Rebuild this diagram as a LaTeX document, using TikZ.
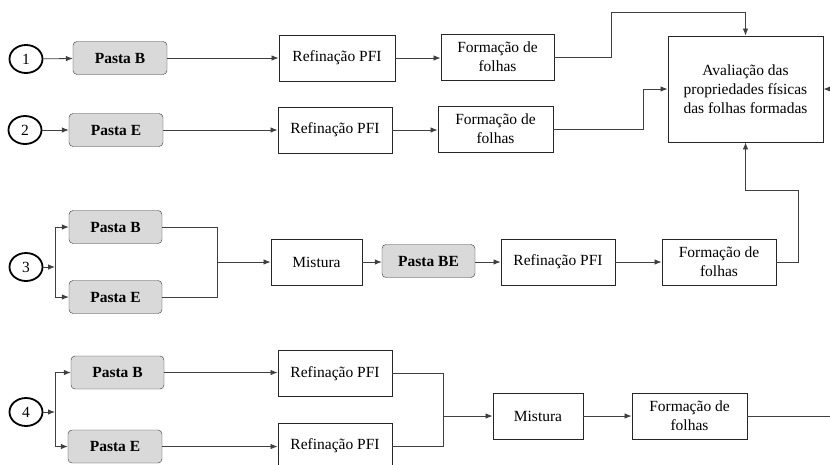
\documentclass[tikz,border=0pt]{standalone}
\usepackage{fontspec}
\setmainfont{Liberation Serif}
\usetikzlibrary{arrows.meta,shapes.geometric}

\begin{document}
\begin{tikzpicture}[x=1pt, y=-1pt,
    font=\fontsize{15.5}{19}\selectfont,
    num/.style={draw, ellipse, line width=1.8pt, minimum width=33pt, minimum height=28pt, inner sep=0pt},
    pasta/.style={draw=black!80, rectangle, rounded corners=4pt, fill=black!15, minimum width=94pt, minimum height=33pt, font=\fontsize{15.5}{19}\selectfont\bfseries},
    caixa/.style={draw=black!85, rectangle, line width=0.9pt, minimum height=46pt, align=center, inner sep=1pt},
    seta/.style={draw=black!75, line width=0.8pt, -{Latex[length=7pt,width=5.5pt]}},
    linha/.style={draw=black!75, line width=0.8pt}]
    \useasboundingbox (0,0) rectangle (830,464);

    % Linha 1
    \node[num] (c1) at (26, 59) {1};
    \node[pasta] (pb1) at (120, 58) {Pasta B};
    \node[caixa, minimum width=116pt] (r1) at (337, 58) {Refinação PFI};
    \node[caixa, minimum width=113pt] (f1) at (497.5, 57) {Formação de\\folhas};
    \node[caixa, minimum width=155pt, minimum height=106pt] (aval) at (745.5, 89) {Avaliação das\\propriedades físicas\\das folhas formadas};
    \coordinate (k1) at (611, 12);

    % Linha 2
    \node[num] (c2) at (25, 130) {2};
    \node[pasta] (pe2) at (116, 130) {Pasta E};
    \node[caixa, minimum width=114pt] (r2) at (335, 130) {Refinação PFI};
    \node[caixa, minimum width=115pt] (f2) at (495.5, 129) {Formação de\\folhas};
    \coordinate (k2) at (643, 89);

    % Linha 3
    \node[num] (c3) at (26, 267) {3};
    \coordinate (j3) at (55, 267);
    \node[pasta, minimum width=93pt] (pb3) at (115.5, 227) {Pasta B};
    \node[pasta, minimum width=93pt] (pe3) at (115.5, 297) {Pasta E};
    \coordinate (m3) at (217, 262);
    \node[caixa, minimum width=91pt] (mix3) at (316.5, 262) {Mistura};
    \node[pasta, minimum width=93pt] (pbe) at (428.5, 261) {Pasta BE};
    \node[caixa, minimum width=114pt] (r3) at (558, 262) {Refinação PFI};
    \node[caixa, minimum width=114pt] (f3) at (719, 262) {Formação de\\folhas};
    \coordinate (k3) at (798, 190);

    % Linha 4
    \node[num] (c4) at (26, 412) {4};
    \coordinate (j4) at (55, 412);
    \node[pasta, minimum width=93pt] (pb4) at (117.5, 372.5) {Pasta B};
    \node[pasta] (pe4) at (115, 446.5) {Pasta E};
    \node[caixa, minimum width=114pt] (r4a) at (335, 373.5) {Refinação PFI};
    \node[caixa, minimum width=114pt] (r4b) at (335, 446) {Refinação PFI};
    \coordinate (m4) at (443, 416);
    \node[caixa, minimum width=90pt] (mix4) at (538, 416) {Mistura};
    \node[caixa, minimum width=115pt] (f4) at (689.5, 416) {Formação de\\folhas};
    \coordinate (k4) at (845, 89);

    % Setas
    \draw[seta] (c1) -- (pb1);
    \draw[seta] (pb1) -- (r1.west |- pb1);
    \draw[seta] (r1.east) -- (f1.west |- r1.east);
    \draw[seta] (f1.east) -| (k1) -| (aval.north);

    \draw[seta] (c2) -- (pe2);
    \draw[seta] (pe2) -- (r2);
    \draw[seta] (r2.east) -- (f2.west |- r2.east);
    \draw[seta] (f2.east) -| (k2) -- (aval.west);

    \draw[seta] (c3) -- (j3);
    \draw[seta] (j3) |- (pb3.west);
    \draw[seta] (j3) |- (pe3.west);
    \draw[linha] (pb3.east) -| (m3);
    \draw[linha] (pe3.east) -| (m3);
    \draw[seta] (m3) -- (mix3.west);
    \draw[seta] (mix3.east) -- (pbe.west |- mix3.east);
    \draw[seta] (pbe.east |- r3.west) -- (r3.west);
    \draw[seta] (r3) -- (f3);
    \draw[seta] (f3.east) -| (k3) -| (aval.south);

    \draw[seta] (c4) -- (j4);
    \draw[seta] (j4) |- (pb4.west);
    \draw[seta] (j4) |- (pe4.west);
    \draw[seta] (pb4.east) -- (r4a.west |- pb4.east);
    \draw[seta] (pe4.east) -- (r4b.west |- pe4.east);
    \draw[linha] (r4a.east) -| (m4);
    \draw[linha] (r4b.east) -| (m4);
    \draw[seta] (m4) -- (mix4);
    \draw[seta] (mix4) -- (f4);
    \draw[seta] (f4.east) -| (k4) -- (aval.east);
\end{tikzpicture}
\end{document}
